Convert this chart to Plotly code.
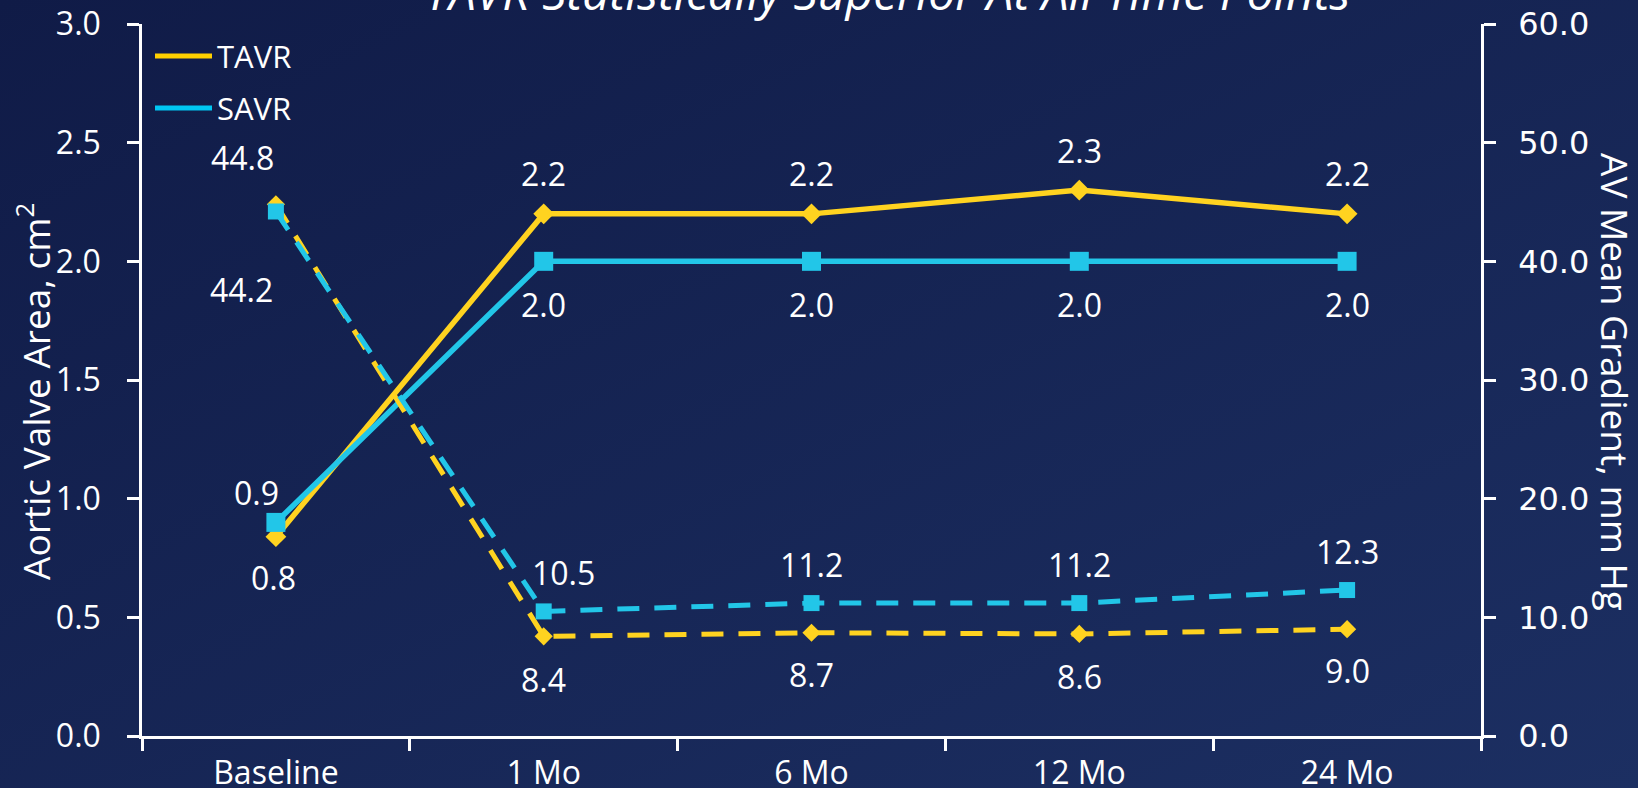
import base64
import plotly.graph_objects as go

# ---- data ----
categories = ["Baseline", "1 Mo", "6 Mo", "12 Mo", "24 Mo"]
tavr_area = [0.84, 2.2, 2.2, 2.3, 2.2]          # aortic valve area, cm²
savr_area = [0.9, 2.0, 2.0, 2.0, 2.0]
tavr_gradient = [44.8, 8.4, 8.7, 8.6, 9.0]      # mean gradient, mm Hg
savr_gradient = [44.2, 10.5, 11.2, 11.2, 12.3]

series_names = ["TAVR", "SAVR"]
chart_title = "TAVR Statistically Superior At All Time Points"
left_title = "Aortic Valve Area, cm<sup>2</sup>"
right_title = "AV Mean Gradient, mm Hg"

# ---- styling ----
W, H = 1638, 788
L, R, T, B = 142, 157, 24, 52
PW, PH = W - L - R, H - T - B

YELLOW = "#FFD320"
CYAN = "#22C6E8"
TEXT = "#FFFFFF"
FONT = "Open Sans"

# label placement relative to each point: (dx, dy) in px, dy positive = down
offsets_tavr_area = [(-2, 41), (0, -40), (0, -40), (0, -40), (0, -40)]
offsets_savr_area = [(-19, -30), (0, 43), (0, 43), (0, 43), (0, 43)]
offsets_tavr_grad = [(-33, -47), (0, 43), (0, 42), (0, 43), (0, 41)]
offsets_savr_grad = [(-34, 78), (20, -39), (0, -39), (0, -39), (0, -39)]


def px_x(px):
    return (px - L) / PW


def px_y(py):
    return 1 - (py - T) / PH


fig = go.Figure()

# solid lines: valve area on the left axis
fig.add_trace(go.Scatter(
    x=categories, y=tavr_area, name=series_names[0], mode="lines+markers",
    line=dict(color=YELLOW, width=5.5),
    marker=dict(symbol="diamond", size=16, color=YELLOW),
    yaxis="y", showlegend=False))
fig.add_trace(go.Scatter(
    x=categories, y=savr_area, name=series_names[1], mode="lines+markers",
    line=dict(color=CYAN, width=5.5),
    marker=dict(symbol="square", size=19, color=CYAN),
    yaxis="y", showlegend=False))

# dashed lines: mean gradient on the right axis
fig.add_trace(go.Scatter(
    x=categories, y=tavr_gradient, name=series_names[0], mode="lines+markers",
    line=dict(color=YELLOW, width=5, dash="22px,15px"),
    marker=dict(symbol="diamond", size=14, color=YELLOW),
    yaxis="y2", showlegend=False))
fig.add_trace(go.Scatter(
    x=categories, y=savr_gradient, name=series_names[1], mode="lines+markers",
    line=dict(color=CYAN, width=5, dash="22px,15px"),
    marker=dict(symbol="square", size=16, color=CYAN),
    yaxis="y2", showlegend=False))

annotations = []


def add_labels(values, offsets, yref):
    for cat, v, (dx, dy) in zip(categories, values, offsets):
        annotations.append(dict(
            x=cat, y=v, xref="x", yref=yref, text=f"{v:.1f}",
            showarrow=False, xshift=dx, yshift=-dy,
            font=dict(family=FONT, size=32, color=TEXT)))


add_labels(tavr_area, offsets_tavr_area, "y")
add_labels(savr_area, offsets_savr_area, "y")
add_labels(tavr_gradient, offsets_tavr_grad, "y2")
add_labels(savr_gradient, offsets_savr_grad, "y2")

# title and axis titles
annotations.append(dict(
    x=px_x(887), y=px_y(26), xref="paper", yref="paper",
    text=f"<i>{chart_title}</i>", showarrow=False,
    xanchor="center", yanchor="bottom",
    font=dict(family=FONT, size=48, color=TEXT)))
annotations.append(dict(
    x=px_x(33), y=px_y(392), xref="paper", yref="paper",
    text=left_title, textangle=-90, showarrow=False,
    xanchor="center", yanchor="middle",
    font=dict(family=FONT, size=37, color=TEXT)))
annotations.append(dict(
    x=px_x(1615), y=px_y(382), xref="paper", yref="paper",
    text=right_title, textangle=90, showarrow=False,
    xanchor="center", yanchor="middle",
    font=dict(family=FONT, size=37, color=TEXT)))

# legend drawn as line swatches with labels
shapes = []
legend_rows = [(56, "#FFD000"), (108, "#00C6F2")]
for name, (ly, col) in zip(series_names, legend_rows):
    shapes.append(dict(
        type="line", xref="paper", yref="paper",
        x0=px_x(155), x1=px_x(212), y0=px_y(ly), y1=px_y(ly),
        line=dict(color=col, width=5)))
    annotations.append(dict(
        x=px_x(215), y=px_y(ly), xref="paper", yref="paper",
        text=name, showarrow=False, xanchor="left", yanchor="middle",
        font=dict(family=FONT, size=31, color=TEXT)))

# dark navy gradient backdrop
svg = (
    '<svg xmlns="http://www.w3.org/2000/svg" width="1638" height="788" '
    'preserveAspectRatio="none">'
    '<defs><linearGradient id="g" x1="0" y1="0" x2="1" y2="1">'
    '<stop offset="0" stop-color="#101B47"/>'
    '<stop offset="1" stop-color="#1C2F62"/>'
    '</linearGradient></defs>'
    '<rect width="1638" height="788" fill="url(#g)"/></svg>'
)
bg_src = "data:image/svg+xml;base64," + base64.b64encode(svg.encode()).decode()

axis_common = dict(
    showline=True, linecolor=TEXT, linewidth=2.5,
    ticks="outside", ticklen=12, tickwidth=2.5, tickcolor=TEXT,
    showgrid=False, zeroline=False, automargin=False,
)

fig.update_layout(
    width=W, height=H,
    margin=dict(l=L, r=R, t=T, b=B, pad=0, autoexpand=False),
    paper_bgcolor="#15244F",
    plot_bgcolor="rgba(0,0,0,0)",
    showlegend=False,
    images=[dict(
        source=bg_src, xref="paper", yref="paper",
        x=-L / PW, y=1 + T / PH, sizex=W / PW, sizey=H / PH,
        xanchor="left", yanchor="top", sizing="stretch", layer="below")],
    xaxis=dict(
        type="category", categoryorder="array", categoryarray=categories,
        range=[-0.5, len(categories) - 0.5], tickson="boundaries",
        tickfont=dict(family=FONT, size=32, color=TEXT),
        ticklabelstandoff=7,
        **axis_common),
    yaxis=dict(
        range=[0, 3], dtick=0.5, tickformat=".1f",
        tickfont=dict(family=FONT, size=32, color=TEXT),
        ticklabelstandoff=20,
        **axis_common),
    yaxis2=dict(
        range=[0, 60], dtick=10, tickformat=".1f",
        overlaying="y", side="right",
        tickfont=dict(family="DejaVu Sans", size=32, color=TEXT),
        ticklabelstandoff=16,
        **axis_common),
    annotations=annotations,
    shapes=shapes,
)

fig.write_html("out.html")
